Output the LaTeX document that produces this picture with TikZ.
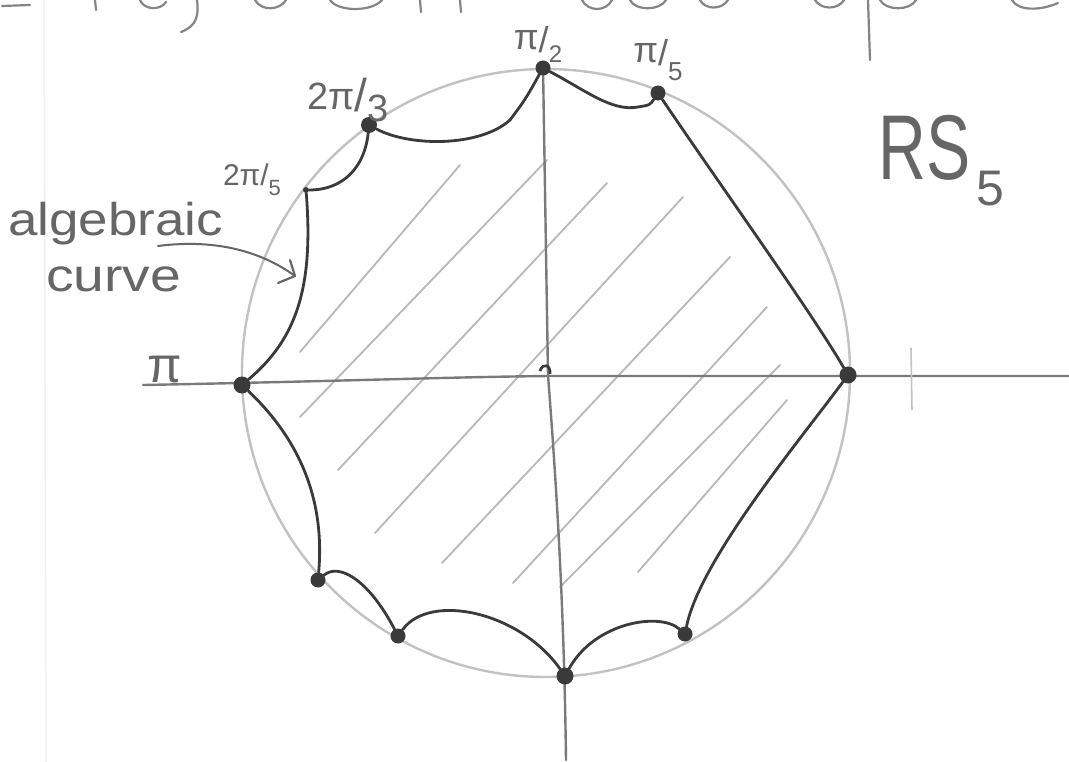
\documentclass[tikz,border=0pt]{standalone}
\usepackage{fontspec}
\usepackage{graphicx}
\setsansfont{Liberation Sans}
\usetikzlibrary{arrows.meta}
\definecolor{ink}{HTML}{3A3A3A}
\definecolor{pencil}{HTML}{666666}
\definecolor{circ}{HTML}{C2C2C2}
\definecolor{hatchc}{HTML}{B8B8B8}
\definecolor{axisc}{HTML}{7A7A7A}
\definecolor{paperline}{HTML}{F0F0F0}
\begin{document}
\begin{tikzpicture}[x=1pt,y=-1pt,
  curve/.style={draw=ink,line width=2.8pt,line cap=round,line join=round},
  axisline/.style={draw=axisc,line width=2.4pt,line cap=round},
  hatchline/.style={draw=hatchc,line width=1.8pt,line cap=round},
  headstroke/.style={draw=pencil!80,line width=2.2pt,line cap=round,line join=round},
  dotnode/.style={circle,fill=ink,inner sep=0pt,minimum size=15pt},
  tinydot/.style={circle,fill=ink,inner sep=0pt,minimum size=6pt},
  lab/.style={text=pencil,font=\sffamily,inner sep=0pt}]
\useasboundingbox (0,0) rectangle (1069,762);
\fill[white] (0,0) rectangle (1069,762);

% faint paper margin
\draw[paperline,line width=1.5pt] (44,0) -- (46,762);

% cut-off handwriting at the top edge (only its lowest strokes show)
\draw[headstroke] (2,6) -- (30,5);
\draw[headstroke] (197,0) .. controls (199,15) and (197,26) .. (181,32);
\draw[headstroke] (868,0) -- (870,60);
\draw[headstroke] (95,0) -- (96,10);
\draw[headstroke] (140,0) .. controls (144,10) and (160,11) .. (166,2);
\draw[headstroke] (255,0) .. controls (262,12) and (280,10) .. (286,0);
\draw[headstroke] (330,0) .. controls (338,12) and (372,12) .. (382,0);
\draw[headstroke] (420,0) -- (421,12);
\draw[headstroke] (460,0) -- (461,12);
\draw[headstroke] (582,0) .. controls (588,12) and (606,12) .. (612,0);
\draw[headstroke] (630,0) .. controls (635,11) and (660,11) .. (666,0);
\draw[headstroke] (700,0) .. controls (705,10) and (722,10) .. (728,0);
\draw[headstroke] (815,0) .. controls (821,10) and (838,10) .. (844,0);
\draw[headstroke] (880,0) .. controls (886,11) and (910,11) .. (916,0);
\draw[headstroke] (1012,0) .. controls (1018,11) and (1040,11) .. (1058,3);

% unit circle (pencil)
\draw[circ,line width=2.4pt] (546,373) circle[radius=304];

% hatching
\foreach \a/\b in {{(300,352)}/{(460,165)},{(300,417)}/{(547,160)},{(338,470)}/{(607,183)},
  {(375,533)}/{(683,197)},{(442,563)}/{(730,257)},{(513,583)}/{(767,307)},
  {(560,587)}/{(780,365)},{(638,572)}/{(787,400)}}
  {\draw[hatchline] \a -- \b;}

% axes
\coordinate (xl) at (143,385);
\coordinate (xr) at (1069,376);
\coordinate (yt) at (543,66);
\coordinate (yb) at (566,760);
\draw[axisline] (xl) .. controls (350,381) and (450,377) .. (550,376) -- (xr);
\draw[axisline] (yt) -- (548,375) .. controls (556,480) and (564,600) .. (yb);
\coordinate (tt) at (911,348);
\coordinate (tb) at (912,410);
\draw[draw=circ,line width=1.6pt] (tt) -- (tb);
\coordinate (o1) at (540,371);
\coordinate (o2) at (550,374);
\draw[ink,line width=2.6pt] (o1) .. controls (543,362) and (551,365) .. (o2);

% vertices
\node[dotnode] (p90) at (543,68) {};
\node[dotnode] (p36) at (658,93) {};
\node[dotnode,minimum size=17pt] (p0) at (848,375) {};
\node[dotnode,minimum size=16pt] (p120) at (369,125) {};
\node[tinydot] (p72) at (306,190) {};
\node[dotnode,minimum size=17pt] (p180) at (242,385) {};
\node[dotnode] (pa) at (318,580) {};
\node[dotnode] (pb) at (398,636) {};
\node[dotnode,minimum size=17pt] (pc) at (565,676) {};
\node[dotnode] (pd) at (685,634) {};

% boundary curves
\draw[curve] (p90) .. controls (585,90) and (612,112) .. (638,107) .. controls (650,105) .. (p36);
\draw[curve] (p36) .. controls (720,185) and (810,310) .. (p0);
\draw[curve] (p0) .. controls (800,440) and (700,560) .. (pd);
\draw[curve] (pd) .. controls (660,612) and (595,622) .. (pc);
\draw[curve] (pc) .. controls (520,612) and (430,592) .. (pb);
\draw[curve] (pb) .. controls (370,582) and (340,562) .. (pa);
\draw[curve] (pa) .. controls (325,500) and (300,440) .. (p180);
\draw[curve] (p180) .. controls (295,340) and (314,290) .. (p72);
\draw[curve] (p72) .. controls (345,190) and (365,165) .. (p120);
\draw[curve] (p120) .. controls (410,147) and (480,147) .. (510,120) .. controls (525,100) .. (p90);

% labels
\node[lab,font=\sffamily\fontsize{36}{36}\selectfont] (l90) at (538,44)
  {π\raisebox{-3pt}{/}\raisebox{-13pt}{\fontsize{24}{24}\selectfont 2}};
\node[lab,font=\sffamily\fontsize{36}{36}\selectfont] (l36) at (658,60)
  {π\raisebox{-3pt}{/}\raisebox{-18pt}{\fontsize{26}{26}\selectfont 5}};
\node[lab,font=\sffamily\fontsize{38}{38}\selectfont] (l120) at (348,100)
  {2π\raisebox{-2pt}{\fontsize{46}{46}\selectfont /}\raisebox{-12pt}{3}};
\node[lab,font=\sffamily\fontsize{30}{30}\selectfont] (l72) at (252,180)
  {2π/\raisebox{-10pt}{\fontsize{22}{22}\selectfont 5}};
\node[lab,font=\sffamily\fontsize{50}{50}\selectfont] (l180) at (165,370) {π};
\node[lab,font=\sffamily\fontsize{92}{92}\selectfont,anchor=base west] (rs) at (878,180)
  {\scalebox{0.72}[1]{RS}\kern6pt\raisebox{-26pt}{\fontsize{50}{50}\selectfont 5}};
\node[lab,font=\sffamily\fontsize{46}{46}\selectfont,anchor=base west] (alg) at (8,236)
  {\scalebox{1.15}[1]{algebraic}};
\node[lab,font=\sffamily\fontsize{46}{46}\selectfont,anchor=base west] (crv) at (46,292)
  {\scalebox{1.2}[1]{curve}};

% arrow to the curve
\coordinate (as) at (158,246);
\coordinate (ae) at (295,276);
\draw[draw=pencil,line width=2pt,line cap=round,line join=round]
  (as) .. controls (220,238) and (265,254) .. (ae);
\draw[draw=pencil,line width=2.2pt,line cap=round,line join=round]
  (290,260) -- (ae) -- (278,283);
\end{tikzpicture}
\end{document}
